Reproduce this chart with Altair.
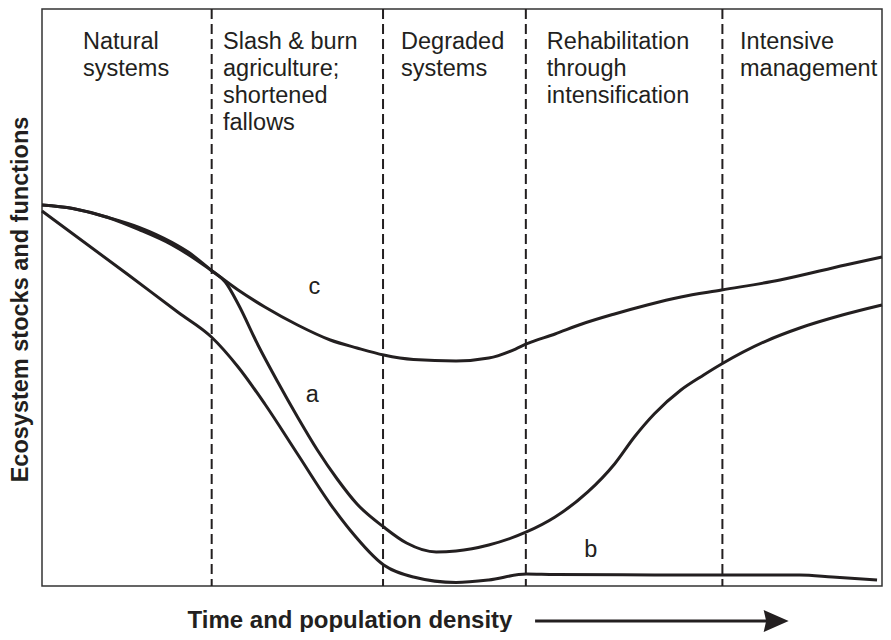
import altair as alt
import pandas as pd

# Horizontal: time and population density (0-100, arbitrary units)
# Vertical: ecosystem stocks and functions (0-100, arbitrary units)

# curve a
a_x = [0, 3.66, 7.67, 11.56, 15.45, 17.45, 20.17, 21.82, 23.35, 25.71, 28.07, 30.42,
       32.78, 35.14, 37.50, 40.68, 43.40, 46.93, 49.29, 53.18, 57.67, 61.08, 64.98,
       68.16, 70.52, 72.88, 76.06, 78.77, 80.90, 86.20, 90.21, 95.28, 100]
a_y = [65.24, 64.64, 63.18, 61.42, 58.85, 57.13, 54.02, 52.05, 48.29, 41.27, 34.93, 28.94,
       23.29, 18.32, 14.04, 10.10, 7.36, 5.82, 5.99, 7.02, 9.25, 11.82, 16.10,
       20.89, 25.51, 29.45, 33.56, 36.13, 38.01, 41.95, 44.18, 46.40, 48.12]

# curve b
b_x = [0, 10.14, 16.27, 20.17, 23.35, 26.53, 30.42, 34.32, 36.67, 40.68, 44.22, 49.29,
       53.18, 57.67, 61.08, 72.88, 80.90, 90.21, 94.10, 99.41]
b_y = [64.21, 53.42, 46.80, 42.64, 37.50, 31.16, 22.60, 14.04, 9.59, 3.60, 1.54, 0.60,
       1.03, 2.05, 1.95, 1.90, 1.88, 1.88, 1.54, 1.03]

# curve c
c_x = [0, 3.66, 7.67, 11.56, 15.45, 17.45, 20.17, 23.35, 26.53, 30.42, 34.32, 37.50,
       40.68, 44.22, 49.29, 53.18, 56.37, 57.67, 61.08, 64.27, 68.16, 72.05, 76.06,
       80.90, 87.85, 95.64, 100]
c_y = [65.24, 64.64, 63.18, 61.02, 58.45, 56.73, 54.02, 50.68, 47.77, 44.69, 42.12, 40.75,
       39.55, 38.78, 38.53, 39.04, 40.58, 41.44, 43.15, 44.86, 46.58, 48.12, 49.49,
       50.68, 52.40, 54.97, 56.34]

# phase boundaries and phase names
phase_bounds = [20.2, 40.6, 57.6, 81.0]
phase_names = [
    "Natural\nsystems",
    "Slash & burn\nagriculture;\nshortened\nfallows",
    "Degraded\nsystems",
    "Rehabilitation\nthrough\nintensification",
    "Intensive\nmanagement",
]
phase_name_x = [4.88, 21.55, 42.74, 60.10, 83.1]
phase_name_y = [91.9, 91.9, 91.9, 91.9, 91.9]

# curve labels
curve_names = ["a", "b", "c"]
curve_name_x = [32.19, 65.33, 32.43]
curve_name_y = [32.71, 6.16, 51.20]

# arrow after the horizontal title
arrow_x = [58.7]
arrow_x2 = [86.3]
arrow_y = [-6.0]
arrow_head_x = [87.4]

x_title = "Time and population density"
y_title = "Ecosystem stocks and functions"

INK = "#231f20"
FONT = "Liberation Sans"

curves_df = pd.concat([
    pd.DataFrame({"x": a_x, "y": a_y, "curve": "a"}),
    pd.DataFrame({"x": b_x, "y": b_y, "curve": "b"}),
    pd.DataFrame({"x": c_x, "y": c_y, "curve": "c"}),
], ignore_index=True)

xs = alt.Scale(domain=[0, 100], nice=False, zero=False)
ys = alt.Scale(domain=[0, 98.8], nice=False, zero=False)

xaxis = alt.Axis(title=x_title, ticks=False, labels=False, domain=False, grid=False,
                 titleFont=FONT, titleFontSize=24, titleFontWeight="bold",
                 titleColor=INK, titlePadding=22, titleX=307.5)
yaxis = alt.Axis(title=y_title, ticks=False, labels=False, domain=False, grid=False,
                 titleFont=FONT, titleFontSize=23.5, titleFontWeight="bold",
                 titleColor=INK, titlePadding=10, titleY=290)

X = alt.X("x:Q", scale=xs, axis=xaxis)
Y = alt.Y("y:Q", scale=ys, axis=yaxis)

curves = alt.Chart(curves_df).mark_line(
    interpolate="monotone", strokeWidth=3, color=INK
).encode(x=X, y=Y, detail="curve:N")

dividers = alt.Chart(pd.DataFrame({"x": phase_bounds})).mark_rule(
    color=INK, strokeWidth=2, strokeDash=[10, 5]
).encode(x=X)

phases = alt.Chart(pd.DataFrame({"x": phase_name_x, "y": phase_name_y, "label": phase_names})).mark_text(
    align="left", baseline="alphabetic", lineBreak="\n", lineHeight=27,
    font=FONT, fontSize=23.5, color=INK
).encode(x=X, y=Y, text="label:N")

curve_labels = alt.Chart(pd.DataFrame({"x": curve_name_x, "y": curve_name_y, "label": curve_names})).mark_text(
    align="center", baseline="middle", font=FONT, fontSize=23.5, color=INK
).encode(x=X, y=Y, text="label:N")

arrow_shaft = alt.Chart(pd.DataFrame({"x": arrow_x, "x2": arrow_x2, "y": arrow_y})).mark_rule(
    color=INK, strokeWidth=3
).encode(x=X, x2="x2:Q", y=Y)

arrow_head = alt.Chart(pd.DataFrame({"x": arrow_head_x, "y": arrow_y})).mark_point(
    shape="M-1,-0.88L1,0L-1,0.88L-0.8,0Z", size=625, filled=True, color=INK, opacity=1, strokeWidth=0
).encode(x=X, y=Y)

chart = alt.layer(
    dividers, curves, phases, curve_labels, arrow_shaft, arrow_head
).properties(
    width=840, height=577,
    autosize=alt.AutoSizeParams(type="none"),
    padding={"left": 34, "top": 1, "right": 1, "bottom": 46},
    background="white",
).configure_view(
    stroke="#333333", strokeWidth=1.5
)

chart.save("out.html", embed_options={"renderer": "svg", "actions": False})
